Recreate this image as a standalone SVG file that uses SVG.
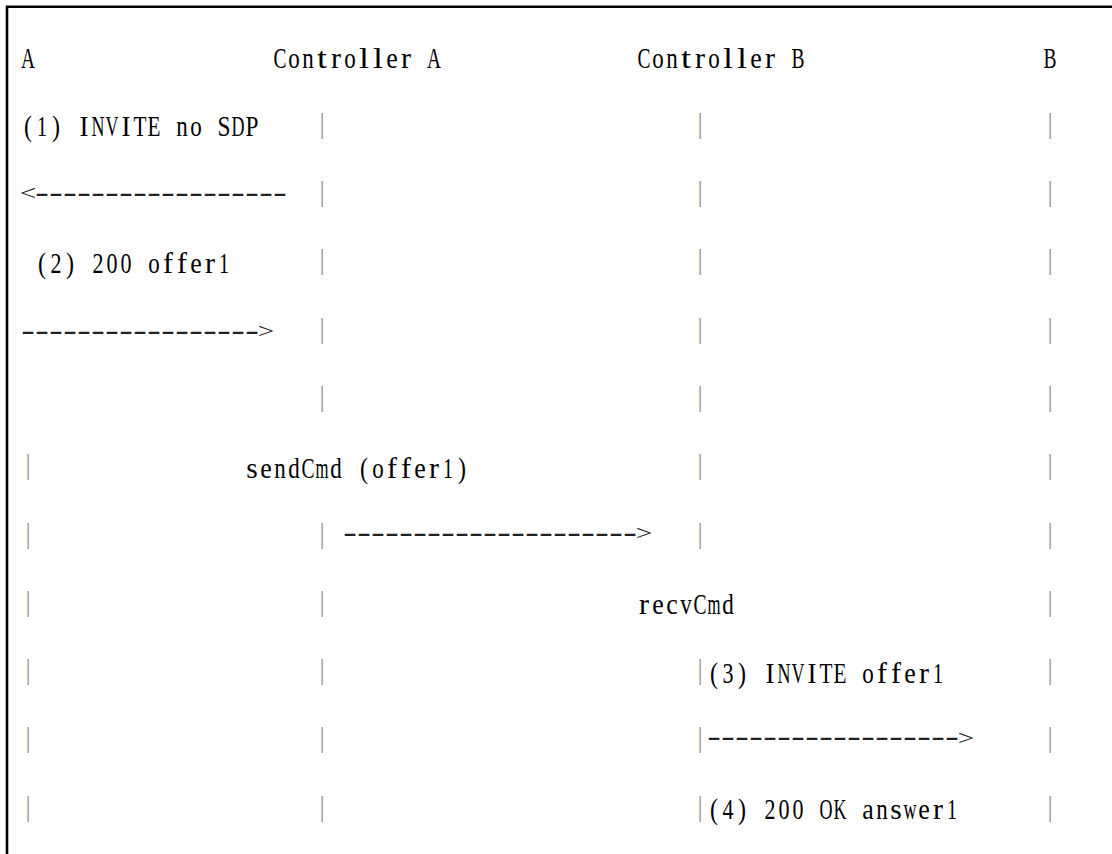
<svg xmlns="http://www.w3.org/2000/svg" width="1112" height="854" viewBox="0 0 1112 854">
  <style>
    text { font-family: "Liberation Serif", "Noto Sans CJK SC", serif; fill: #000; }
    .t { font-size: 29.5px; }
    .bar { font-size: 29.5px; fill: #7a7a7a; text-anchor: middle; }
    .dash { font-size: 29px; fill: #222; text-anchor: middle; }
    .head { font-size: 21px; }
  </style>
  <rect width="1112" height="854" fill="#fff"/>
  <!-- frame: top and left edges -->
  <path d="M7,854 V6.7 H1112" fill="none" stroke="#000" stroke-width="2.6"/>

  <!-- character grid: 14px cells starting at x=21, rows 68.3px apart.
       Every glyph is fitted into its own cell so the lines read as fixed-pitch text. -->
  <g id="node-a">
    <text class="t" y="68"><tspan x="21" textLength="14" lengthAdjust="spacingAndGlyphs">A</tspan></text>
  </g>
  <g id="node-controller-a">
    <text class="t" y="68"><tspan x="273.5" textLength="13" lengthAdjust="spacingAndGlyphs">C</tspan><tspan x="288.25" textLength="11.5" lengthAdjust="spacingAndGlyphs">o</tspan><tspan x="302.25" textLength="11.5" lengthAdjust="spacingAndGlyphs">n</tspan><tspan x="317" textLength="10" lengthAdjust="spacingAndGlyphs">t</tspan><tspan x="331" textLength="10" lengthAdjust="spacingAndGlyphs">r</tspan><tspan x="344.25" textLength="11.5" lengthAdjust="spacingAndGlyphs">o</tspan><tspan x="359" textLength="10" lengthAdjust="spacingAndGlyphs">l</tspan><tspan x="373" textLength="10" lengthAdjust="spacingAndGlyphs">l</tspan><tspan x="386.25" textLength="11.5" lengthAdjust="spacingAndGlyphs">e</tspan><tspan x="401" textLength="10" lengthAdjust="spacingAndGlyphs">r</tspan> <tspan x="427" textLength="14" lengthAdjust="spacingAndGlyphs">A</tspan></text>
  </g>
  <g id="node-controller-b">
    <text class="t" y="68"><tspan x="637.5" textLength="13" lengthAdjust="spacingAndGlyphs">C</tspan><tspan x="652.25" textLength="11.5" lengthAdjust="spacingAndGlyphs">o</tspan><tspan x="666.25" textLength="11.5" lengthAdjust="spacingAndGlyphs">n</tspan><tspan x="681" textLength="10" lengthAdjust="spacingAndGlyphs">t</tspan><tspan x="695" textLength="10" lengthAdjust="spacingAndGlyphs">r</tspan><tspan x="708.25" textLength="11.5" lengthAdjust="spacingAndGlyphs">o</tspan><tspan x="723" textLength="10" lengthAdjust="spacingAndGlyphs">l</tspan><tspan x="737" textLength="10" lengthAdjust="spacingAndGlyphs">l</tspan><tspan x="750.25" textLength="11.5" lengthAdjust="spacingAndGlyphs">e</tspan><tspan x="765" textLength="10" lengthAdjust="spacingAndGlyphs">r</tspan> <tspan x="791.5" textLength="13" lengthAdjust="spacingAndGlyphs">B</tspan></text>
  </g>
  <g id="node-b">
    <text class="t" y="68"><tspan x="1043.5" textLength="13" lengthAdjust="spacingAndGlyphs">B</tspan></text>
  </g>

  <!-- lifeline bars, condensed to 0.7 width: cell centre = 40 + 20*col -->
  <g id="lifelines" transform="scale(0.7,1)">
    <g id="lifeline-a">
      <text class="bar" x="40" y="474.3">|</text>
      <text class="bar" x="40" y="542.6">|</text>
      <text class="bar" x="40" y="610.9">|</text>
      <text class="bar" x="40" y="679.2">|</text>
      <text class="bar" x="40" y="747.5">|</text>
      <text class="bar" x="40" y="815.8">|</text>
    </g>
    <g id="lifeline-controller-a">
      <text class="bar" x="460" y="132.8">|</text>
      <text class="bar" x="460" y="201.1">|</text>
      <text class="bar" x="460" y="269.4">|</text>
      <text class="bar" x="460" y="337.7">|</text>
      <text class="bar" x="460" y="406">|</text>
      <text class="bar" x="460" y="542.6">|</text>
      <text class="bar" x="460" y="610.9">|</text>
      <text class="bar" x="460" y="679.2">|</text>
      <text class="bar" x="460" y="747.5">|</text>
      <text class="bar" x="460" y="815.8">|</text>
    </g>
    <g id="lifeline-controller-b">
      <text class="bar" x="1000" y="132.8">|</text>
      <text class="bar" x="1000" y="201.1">|</text>
      <text class="bar" x="1000" y="269.4">|</text>
      <text class="bar" x="1000" y="337.7">|</text>
      <text class="bar" x="1000" y="406">|</text>
      <text class="bar" x="1000" y="474.3">|</text>
      <text class="bar" x="1000" y="542.6">|</text>
      <text class="bar" x="1000" y="679.2">|</text>
      <text class="bar" x="1000" y="747.5">|</text>
      <text class="bar" x="1000" y="815.8">|</text>
    </g>
    <g id="lifeline-b">
      <text class="bar" x="1500" y="132.8">|</text>
      <text class="bar" x="1500" y="201.1">|</text>
      <text class="bar" x="1500" y="269.4">|</text>
      <text class="bar" x="1500" y="337.7">|</text>
      <text class="bar" x="1500" y="406">|</text>
      <text class="bar" x="1500" y="474.3">|</text>
      <text class="bar" x="1500" y="542.6">|</text>
      <text class="bar" x="1500" y="610.9">|</text>
      <text class="bar" x="1500" y="679.2">|</text>
      <text class="bar" x="1500" y="747.5">|</text>
      <text class="bar" x="1500" y="815.8">|</text>
    </g>
  </g>

  <!-- message labels -->
  <g id="labels">
    <text class="t" y="136.3"><tspan x="24" textLength="8" lengthAdjust="spacingAndGlyphs">(</tspan><tspan x="37" textLength="10" lengthAdjust="spacingAndGlyphs">1</tspan><tspan x="52" textLength="8" lengthAdjust="spacingAndGlyphs">)</tspan> <tspan x="79.5" textLength="9" lengthAdjust="spacingAndGlyphs">I</tspan><tspan x="91.5" textLength="13" lengthAdjust="spacingAndGlyphs">N</tspan><tspan x="105.5" textLength="13" lengthAdjust="spacingAndGlyphs">V</tspan><tspan x="121.5" textLength="9" lengthAdjust="spacingAndGlyphs">I</tspan><tspan x="133.5" textLength="13" lengthAdjust="spacingAndGlyphs">T</tspan><tspan x="147.5" textLength="13" lengthAdjust="spacingAndGlyphs">E</tspan> <tspan x="176.25" textLength="11.5" lengthAdjust="spacingAndGlyphs">n</tspan><tspan x="190.25" textLength="11.5" lengthAdjust="spacingAndGlyphs">o</tspan> <tspan x="217.5" textLength="13" lengthAdjust="spacingAndGlyphs">S</tspan><tspan x="231.5" textLength="13" lengthAdjust="spacingAndGlyphs">D</tspan><tspan x="245.5" textLength="13" lengthAdjust="spacingAndGlyphs">P</tspan></text>
    <text class="t" y="272.9"><tspan x="38" textLength="8" lengthAdjust="spacingAndGlyphs">(</tspan><tspan x="50.5" textLength="11" lengthAdjust="spacingAndGlyphs">2</tspan><tspan x="66" textLength="8" lengthAdjust="spacingAndGlyphs">)</tspan> <tspan x="92.5" textLength="11" lengthAdjust="spacingAndGlyphs">2</tspan><tspan x="106.5" textLength="11" lengthAdjust="spacingAndGlyphs">0</tspan><tspan x="120.5" textLength="11" lengthAdjust="spacingAndGlyphs">0</tspan> <tspan x="148.25" textLength="11.5" lengthAdjust="spacingAndGlyphs">o</tspan><tspan x="163" textLength="10" lengthAdjust="spacingAndGlyphs">f</tspan><tspan x="177" textLength="10" lengthAdjust="spacingAndGlyphs">f</tspan><tspan x="190.25" textLength="11.5" lengthAdjust="spacingAndGlyphs">e</tspan><tspan x="205" textLength="10" lengthAdjust="spacingAndGlyphs">r</tspan><tspan x="219" textLength="10" lengthAdjust="spacingAndGlyphs">1</tspan></text>
    <text class="t" y="477.8"><tspan x="246.25" textLength="11.5" lengthAdjust="spacingAndGlyphs">s</tspan><tspan x="260.25" textLength="11.5" lengthAdjust="spacingAndGlyphs">e</tspan><tspan x="274.25" textLength="11.5" lengthAdjust="spacingAndGlyphs">n</tspan><tspan x="288.25" textLength="11.5" lengthAdjust="spacingAndGlyphs">d</tspan><tspan x="301.5" textLength="13" lengthAdjust="spacingAndGlyphs">C</tspan><tspan x="315.5" textLength="13" lengthAdjust="spacingAndGlyphs">m</tspan><tspan x="330.25" textLength="11.5" lengthAdjust="spacingAndGlyphs">d</tspan> <tspan x="360" textLength="8" lengthAdjust="spacingAndGlyphs">(</tspan><tspan x="372.25" textLength="11.5" lengthAdjust="spacingAndGlyphs">o</tspan><tspan x="387" textLength="10" lengthAdjust="spacingAndGlyphs">f</tspan><tspan x="401" textLength="10" lengthAdjust="spacingAndGlyphs">f</tspan><tspan x="414.25" textLength="11.5" lengthAdjust="spacingAndGlyphs">e</tspan><tspan x="429" textLength="10" lengthAdjust="spacingAndGlyphs">r</tspan><tspan x="443" textLength="10" lengthAdjust="spacingAndGlyphs">1</tspan><tspan x="458" textLength="8" lengthAdjust="spacingAndGlyphs">)</tspan></text>
    <text class="t" y="614.4"><tspan x="639" textLength="10" lengthAdjust="spacingAndGlyphs">r</tspan><tspan x="652.25" textLength="11.5" lengthAdjust="spacingAndGlyphs">e</tspan><tspan x="666.25" textLength="11.5" lengthAdjust="spacingAndGlyphs">c</tspan><tspan x="680.25" textLength="11.5" lengthAdjust="spacingAndGlyphs">v</tspan><tspan x="693.5" textLength="13" lengthAdjust="spacingAndGlyphs">C</tspan><tspan x="707.5" textLength="13" lengthAdjust="spacingAndGlyphs">m</tspan><tspan x="722.25" textLength="11.5" lengthAdjust="spacingAndGlyphs">d</tspan></text>
    <text class="t" y="682.7"><tspan x="710" textLength="8" lengthAdjust="spacingAndGlyphs">(</tspan><tspan x="722.5" textLength="11" lengthAdjust="spacingAndGlyphs">3</tspan><tspan x="738" textLength="8" lengthAdjust="spacingAndGlyphs">)</tspan> <tspan x="765.5" textLength="9" lengthAdjust="spacingAndGlyphs">I</tspan><tspan x="777.5" textLength="13" lengthAdjust="spacingAndGlyphs">N</tspan><tspan x="791.5" textLength="13" lengthAdjust="spacingAndGlyphs">V</tspan><tspan x="807.5" textLength="9" lengthAdjust="spacingAndGlyphs">I</tspan><tspan x="819.5" textLength="13" lengthAdjust="spacingAndGlyphs">T</tspan><tspan x="833.5" textLength="13" lengthAdjust="spacingAndGlyphs">E</tspan> <tspan x="862.25" textLength="11.5" lengthAdjust="spacingAndGlyphs">o</tspan><tspan x="877" textLength="10" lengthAdjust="spacingAndGlyphs">f</tspan><tspan x="891" textLength="10" lengthAdjust="spacingAndGlyphs">f</tspan><tspan x="904.25" textLength="11.5" lengthAdjust="spacingAndGlyphs">e</tspan><tspan x="919" textLength="10" lengthAdjust="spacingAndGlyphs">r</tspan><tspan x="933" textLength="10" lengthAdjust="spacingAndGlyphs">1</tspan></text>
    <text class="t" y="819.3"><tspan x="710" textLength="8" lengthAdjust="spacingAndGlyphs">(</tspan><tspan x="722.5" textLength="11" lengthAdjust="spacingAndGlyphs">4</tspan><tspan x="738" textLength="8" lengthAdjust="spacingAndGlyphs">)</tspan> <tspan x="764.5" textLength="11" lengthAdjust="spacingAndGlyphs">2</tspan><tspan x="778.5" textLength="11" lengthAdjust="spacingAndGlyphs">0</tspan><tspan x="792.5" textLength="11" lengthAdjust="spacingAndGlyphs">0</tspan> <tspan x="819.5" textLength="13" lengthAdjust="spacingAndGlyphs">O</tspan><tspan x="833.5" textLength="13" lengthAdjust="spacingAndGlyphs">K</tspan> <tspan x="862.25" textLength="11.5" lengthAdjust="spacingAndGlyphs">a</tspan><tspan x="876.25" textLength="11.5" lengthAdjust="spacingAndGlyphs">n</tspan><tspan x="890.25" textLength="11.5" lengthAdjust="spacingAndGlyphs">s</tspan><tspan x="903.5" textLength="13" lengthAdjust="spacingAndGlyphs">w</tspan><tspan x="918.25" textLength="11.5" lengthAdjust="spacingAndGlyphs">e</tspan><tspan x="933" textLength="10" lengthAdjust="spacingAndGlyphs">r</tspan><tspan x="947" textLength="10" lengthAdjust="spacingAndGlyphs">1</tspan></text>
  </g>

  <!-- ASCII arrows: hyphens stretched to 1.4 width, cell centre = 20 + 10*col -->
  <g id="connectors" transform="scale(1.4,1)">
    <text class="dash" x="20 30 40 50 60 70 80 90 100 110 120 130 140 150 160 170 180 190 200" y="201.6"><tspan class="head" dy="-1.5">&lt;</tspan><tspan dy="1.5">------------------</tspan></text>
    <text class="dash" x="20 30 40 50 60 70 80 90 100 110 120 130 140 150 160 170 180 190" y="339.9">-----------------<tspan class="head" dy="-1.5">&gt;</tspan></text>
    <text class="dash" x="250 260 270 280 290 300 310 320 330 340 350 360 370 380 390 400 410 420 430 440 450 460" y="541.6">---------------------<tspan class="head" dy="-1.5">&gt;</tspan></text>
    <text class="dash" x="510 520 530 540 550 560 570 580 590 600 610 620 630 640 650 660 670 680 690" y="746.5">------------------<tspan class="head" dy="-1.5">&gt;</tspan></text>
  </g>
</svg>
